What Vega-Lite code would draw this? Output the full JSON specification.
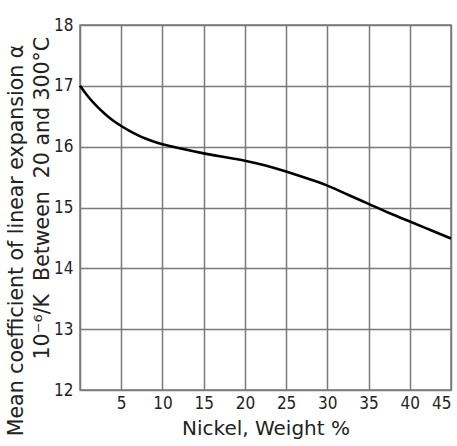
{
  "$schema": "https://vega.github.io/schema/vega-lite/v6.json",
  "width": 371,
  "height": 365,
  "autosize": "none",
  "padding": {"left": 80, "top": 25, "right": 6, "bottom": 56},
  "background": "white",
  "config": {
    "view": {"stroke": "#7a7a7a", "strokeWidth": 1.5},
    "font": "DejaVu Sans"
  },
  "data": {"values": [
    {"ni": 0, "alpha": 17.0},
    {"ni": 1, "alpha": 16.82},
    {"ni": 2, "alpha": 16.67},
    {"ni": 3, "alpha": 16.54},
    {"ni": 4, "alpha": 16.43},
    {"ni": 5, "alpha": 16.34},
    {"ni": 6, "alpha": 16.26},
    {"ni": 7, "alpha": 16.19},
    {"ni": 8, "alpha": 16.13},
    {"ni": 9, "alpha": 16.08},
    {"ni": 10, "alpha": 16.04},
    {"ni": 12.5, "alpha": 15.96},
    {"ni": 15, "alpha": 15.89},
    {"ni": 17.5, "alpha": 15.83},
    {"ni": 20, "alpha": 15.77},
    {"ni": 22.5, "alpha": 15.69},
    {"ni": 25, "alpha": 15.59},
    {"ni": 27.5, "alpha": 15.48},
    {"ni": 30, "alpha": 15.36},
    {"ni": 32.5, "alpha": 15.21},
    {"ni": 35, "alpha": 15.06},
    {"ni": 37.5, "alpha": 14.91},
    {"ni": 40, "alpha": 14.77},
    {"ni": 42.5, "alpha": 14.63},
    {"ni": 45, "alpha": 14.49}
  ]},
  "mark": {"type": "line", "color": "black", "strokeWidth": 2.6, "interpolate": "natural"},
  "encoding": {
    "x": {
      "field": "ni", "type": "quantitative",
      "scale": {"domain": [0, 45], "nice": false, "zero": false},
      "axis": {
        "values": [0, 5, 10, 15, 20, 25, 30, 35, 40, 45],
        "labelExpr": "datum.value == 0 ? '' : datum.label",
        "title": "Nickel, Weight %",
        "titleFont": "DejaVu Sans", "titleFontSize": 20, "titleFontWeight": "normal",
        "titleColor": "#222", "titlePadding": 7,
        "labelFont": "DejaVu Sans Condensed", "labelFontSize": 17, "labelColor": "#222",
        "labelPadding": 5,
        "ticks": false, "domain": false,
        "grid": true, "gridColor": "#7a7a7a", "gridWidth": 1.5, "gridOpacity": 1
      }
    },
    "y": {
      "field": "alpha", "type": "quantitative",
      "scale": {"domain": [12, 18], "nice": false, "zero": false},
      "axis": {
        "values": [12, 13, 14, 15, 16, 17, 18],
        "title": ["Mean coefficient of linear expansion α", "\u200b\u00a0\u00a0\u00a0\u00a0\u00a0\u00a0\u00a0\u00a0\u00a0\u00a0\u00a0\u00a0\u00a010⁻⁶/K\u00a0\u00a0Between\u00a0\u00a020 and 300°C"],
        "titleFont": "DejaVu Sans", "titleFontSize": 20.5, "titleFontWeight": "normal",
        "titleColor": "#222", "titleLineHeight": 26,
        "titleX": -64, "titleY": 215, "titleBaseline": "middle",
        "labelFont": "DejaVu Sans Condensed", "labelFontSize": 17, "labelColor": "#222",
        "labelPadding": 7,
        "ticks": false, "domain": false,
        "grid": true, "gridColor": "#7a7a7a", "gridWidth": 1.5, "gridOpacity": 1
      }
    }
  }
}
